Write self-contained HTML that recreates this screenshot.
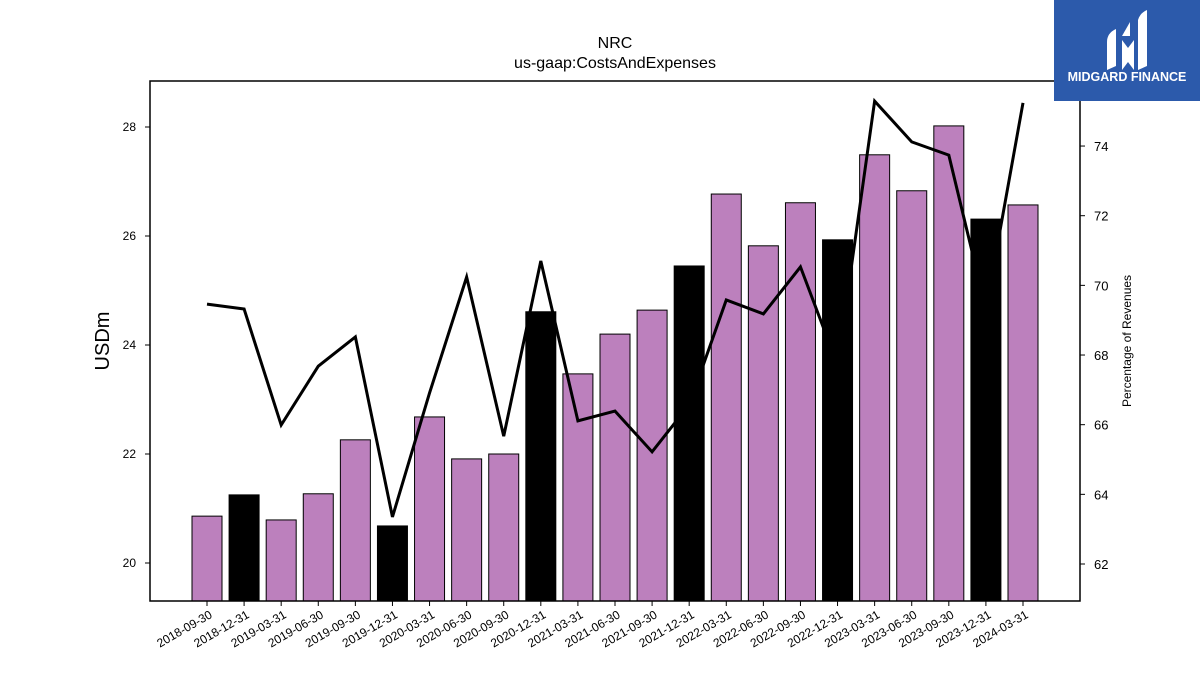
<!DOCTYPE html>
<html><head><meta charset="utf-8"><style>
body{margin:0;background:#fff;width:1200px;height:675px;overflow:hidden;font-family:"Liberation Sans","DejaVu Sans",sans-serif;}
svg{position:absolute;left:0;top:0}
</style></head><body>
<svg id="chart" width="1200" height="675" xmlns="http://www.w3.org/2000/svg">
<text x="615" y="48" text-anchor="middle" font-size="16">NRC</text>
<text x="615" y="68" text-anchor="middle" font-size="16">us-gaap:CostsAndExpenses</text>
<g id="bars"></g>
<g id="line"></g>
<rect x="150" y="81" width="930" height="520" fill="none" stroke="#000" stroke-width="1.5"/>
<g id="axes"></g>
<text transform="translate(109,341) rotate(-90)" text-anchor="middle" font-size="20">USDm</text>
<text transform="translate(1131,341) rotate(-90)" text-anchor="middle" font-size="12">Percentage of Revenues</text>
<g>
<rect x="1054" y="0" width="146" height="101" fill="#2c5aab"/>
<path d="M1107 70 L1107 42 Q1107 33 1116 29 L1116 66 Z" fill="#fff"/>
<path d="M1122 70 L1122 40 L1128 48 L1134 40 L1134 70 L1128 62 Z" fill="#fff"/>
<path d="M1122 36 L1130 22 L1130 36 Z" fill="#fff"/>
<path d="M1138 70 L1138 20 Q1140 13 1147 10 L1147 66 Z" fill="#fff"/>
<text x="1127" y="81" text-anchor="middle" font-size="12.5" font-weight="bold" fill="#fff">MIDGARD FINANCE</text>
</g>
</svg>
<script>
const categories=["2018-09-30","2018-12-31","2019-03-31","2019-06-30","2019-09-30","2019-12-31","2020-03-31","2020-06-30","2020-09-30","2020-12-31","2021-03-31","2021-06-30","2021-09-30","2021-12-31","2022-03-31","2022-06-30","2022-09-30","2022-12-31","2023-03-31","2023-06-30","2023-09-30","2023-12-31","2024-03-31"];
const costs=[20.86,21.25,20.79,21.27,22.26,20.68,22.68,21.91,22.0,24.61,23.47,24.2,24.64,25.45,26.77,25.82,26.61,25.93,27.49,26.83,28.02,26.31,26.57];
const pctRevenue=[69.46,69.32,65.99,67.68,68.52,63.35,66.91,70.24,65.67,70.70,66.11,66.39,65.22,66.57,69.58,69.18,70.53,67.71,75.29,74.12,73.74,69.32,75.24];
const leftTicks=[20,22,24,26,28];
const rightTicks=[62,64,66,68,70,72,74];
const NS="http://www.w3.org/2000/svg";
const x=i=>207+i*(1023-207)/(categories.length-1);
const yL=v=>563-(v-20)*54.5;
const yR=v=>564-(v-62)*34.83;
function mk(t,a,p){const e=document.createElementNS(NS,t);for(const k in a)e.setAttribute(k,a[k]);p.appendChild(e);return e;}
const bars=document.getElementById('bars'),line=document.getElementById('line'),axes=document.getElementById('axes');
categories.forEach((c,i)=>{
 const q4=c.endsWith('12-31');
 const r=mk('rect',{x:x(i)-15,y:yL(costs[i]),width:30,height:601-yL(costs[i]),fill:q4?'#000':'#bc80bd',stroke:'#000','stroke-width':1},bars);
 
 
 const t=mk('line',{x1:x(i),x2:x(i),y1:601,y2:606,stroke:'#000'},axes);
 
 
 const l=mk('text',{transform:`translate(${x(i)+6},${617}) rotate(-30)`,'text-anchor':'end','font-size':12},axes);
 l.textContent=c;
 
 
});
const pl=mk('polyline',{points:pctRevenue.map((v,i)=>x(i)+','+yR(v)).join(' '),fill:'none',stroke:'#000','stroke-width':3,'stroke-linejoin':'miter'},line);


leftTicks.forEach(v=>{
 const t=mk('line',{x1:145,x2:150,y1:yL(v),y2:yL(v),stroke:'#000'},axes);
 
 
 const l=mk('text',{x:136,y:yL(v)+4,'text-anchor':'end','font-size':12},axes);
 l.textContent=v;
 
 
});
rightTicks.forEach(v=>{
 const t=mk('line',{x1:1080,x2:1085,y1:yR(v),y2:yR(v),stroke:'#000'},axes);
 
 
 const l=mk('text',{x:1094,y:yR(v)+5,'font-size':13},axes);
 l.textContent=v;
 
 
});
</script>
</body></html>
